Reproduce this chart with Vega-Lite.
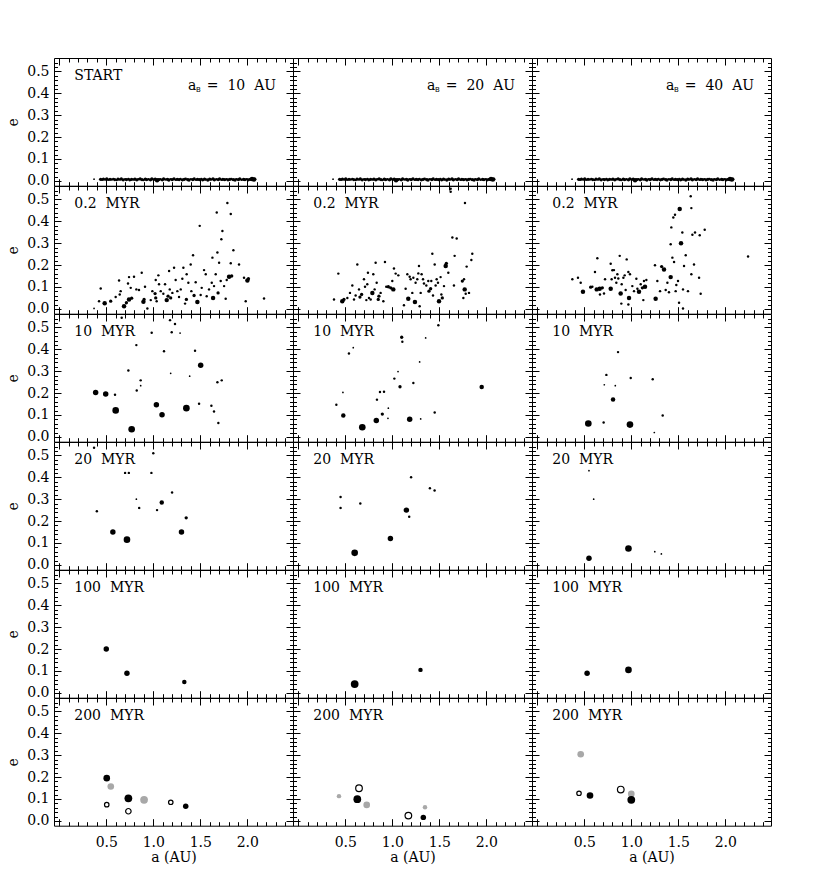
{
  "$schema": "https://vega.github.io/schema/vega-lite/v6.json",
  "background": "white",
  "padding": {"left": 6, "top": 55, "right": 5, "bottom": 5},
  "data": {
    "values": [
      {"r":1,"c":[1],"k":"time","s":"START"},
      {"r":2,"c":[1,2,3],"k":"time","s":"0.2\u00a0\u00a0MYR"},
      {"r":3,"c":[1,2,3],"k":"time","s":"10\u00a0\u00a0MYR"},
      {"r":4,"c":[1,2,3],"k":"time","s":"20\u00a0\u00a0MYR"},
      {"r":5,"c":[1,2,3],"k":"time","s":"100\u00a0\u00a0MYR"},
      {"r":6,"c":[1,2,3],"k":"time","s":"200\u00a0\u00a0MYR"},
      {"r":1,"c":[1],"k":"aB","s":"=\u00a0\u00a010\u00a0\u00a0AU"},
      {"r":1,"c":[2],"k":"aB","s":"=\u00a0\u00a020\u00a0\u00a0AU"},
      {"r":1,"c":[3],"k":"aB","s":"=\u00a0\u00a040\u00a0\u00a0AU"},

      {"r":1,"c":[1,2,3],"a":0.37,"e":0.008,"m":1},
      {"r":1,"c":[1,2,3],"a":0.44,"e":0.007,"m":3},
      {"r":1,"c":[1,2,3],"a":0.455,"e":0.005,"m":2},
      {"r":1,"c":[1,2,3],"a":0.47,"e":0.008,"m":3},
      {"r":1,"c":[1,2,3],"a":0.49,"e":0.006,"m":2},
      {"r":1,"c":[1,2,3],"a":0.505,"e":0.009,"m":3},
      {"r":1,"c":[1,2,3],"a":0.52,"e":0.005,"m":2},
      {"r":1,"c":[1,2,3],"a":0.54,"e":0.007,"m":3},
      {"r":1,"c":[1,2,3],"a":0.56,"e":0.006,"m":2},
      {"r":1,"c":[1,2,3],"a":0.575,"e":0.009,"m":2},
      {"r":1,"c":[1,2,3],"a":0.59,"e":0.006,"m":3},
      {"r":1,"c":[1,2,3],"a":0.61,"e":0.004,"m":2},
      {"r":1,"c":[1,2,3],"a":0.625,"e":0.008,"m":3},
      {"r":1,"c":[1,2,3],"a":0.645,"e":0.006,"m":2},
      {"r":1,"c":[1,2,3],"a":0.66,"e":0.009,"m":3},
      {"r":1,"c":[1,2,3],"a":0.68,"e":0.005,"m":3},
      {"r":1,"c":[1,2,3],"a":0.70,"e":0.007,"m":2},
      {"r":1,"c":[1,2,3],"a":0.715,"e":0.006,"m":3},
      {"r":1,"c":[1,2,3],"a":0.735,"e":0.009,"m":2},
      {"r":1,"c":[1,2,3],"a":0.75,"e":0.005,"m":3},
      {"r":1,"c":[1,2,3],"a":0.77,"e":0.007,"m":3},
      {"r":1,"c":[1,2,3],"a":0.79,"e":0.006,"m":2},
      {"r":1,"c":[1,2,3],"a":0.805,"e":0.008,"m":3},
      {"r":1,"c":[1,2,3],"a":0.825,"e":0.005,"m":3},
      {"r":1,"c":[1,2,3],"a":0.84,"e":0.007,"m":2},
      {"r":1,"c":[1,2,3],"a":0.86,"e":0.009,"m":3},
      {"r":1,"c":[1,2,3],"a":0.88,"e":0.006,"m":3},
      {"r":1,"c":[1,2,3],"a":0.895,"e":0.004,"m":2},
      {"r":1,"c":[1,2,3],"a":0.915,"e":0.008,"m":3},
      {"r":1,"c":[1,2,3],"a":0.93,"e":0.006,"m":3},
      {"r":1,"c":[1,2,3],"a":0.95,"e":0.007,"m":2},
      {"r":1,"c":[1,2,3],"a":0.97,"e":0.005,"m":3},
      {"r":1,"c":[1,2,3],"a":0.985,"e":0.009,"m":3},
      {"r":1,"c":[1,2,3],"a":1.005,"e":0.006,"m":2},
      {"r":1,"c":[1,2,3],"a":1.02,"e":0.008,"m":3},
      {"r":1,"c":[1,2,3],"a":1.04,"e":0.003,"m":4},
      {"r":1,"c":[1,2,3],"a":1.06,"e":0.006,"m":3},
      {"r":1,"c":[1,2,3],"a":1.075,"e":0.008,"m":2},
      {"r":1,"c":[1,2,3],"a":1.095,"e":0.005,"m":3},
      {"r":1,"c":[1,2,3],"a":1.11,"e":0.009,"m":3},
      {"r":1,"c":[1,2,3],"a":1.13,"e":0.006,"m":2},
      {"r":1,"c":[1,2,3],"a":1.15,"e":0.007,"m":3},
      {"r":1,"c":[1,2,3],"a":1.165,"e":0.004,"m":3},
      {"r":1,"c":[1,2,3],"a":1.185,"e":0.008,"m":2},
      {"r":1,"c":[1,2,3],"a":1.20,"e":0.006,"m":3},
      {"r":1,"c":[1,2,3],"a":1.22,"e":0.009,"m":3},
      {"r":1,"c":[1,2,3],"a":1.24,"e":0.005,"m":2},
      {"r":1,"c":[1,2,3],"a":1.255,"e":0.007,"m":3},
      {"r":1,"c":[1,2,3],"a":1.275,"e":0.006,"m":3},
      {"r":1,"c":[1,2,3],"a":1.29,"e":0.009,"m":2},
      {"r":1,"c":[1,2,3],"a":1.31,"e":0.005,"m":3},
      {"r":1,"c":[1,2,3],"a":1.33,"e":0.007,"m":3},
      {"r":1,"c":[1,2,3],"a":1.345,"e":0.010,"m":2},
      {"r":1,"c":[1,2,3],"a":1.365,"e":0.006,"m":3},
      {"r":1,"c":[1,2,3],"a":1.38,"e":0.004,"m":3},
      {"r":1,"c":[1,2,3],"a":1.40,"e":0.008,"m":2},
      {"r":1,"c":[1,2,3],"a":1.42,"e":0.006,"m":3},
      {"r":1,"c":[1,2,3],"a":1.435,"e":0.009,"m":3},
      {"r":1,"c":[1,2,3],"a":1.455,"e":0.005,"m":2},
      {"r":1,"c":[1,2,3],"a":1.47,"e":0.007,"m":3},
      {"r":1,"c":[1,2,3],"a":1.49,"e":0.006,"m":3},
      {"r":1,"c":[1,2,3],"a":1.51,"e":0.009,"m":2},
      {"r":1,"c":[1,2,3],"a":1.525,"e":0.005,"m":3},
      {"r":1,"c":[1,2,3],"a":1.545,"e":0.008,"m":3},
      {"r":1,"c":[1,2,3],"a":1.56,"e":0.006,"m":2},
      {"r":1,"c":[1,2,3],"a":1.58,"e":0.004,"m":3},
      {"r":1,"c":[1,2,3],"a":1.60,"e":0.008,"m":3},
      {"r":1,"c":[1,2,3],"a":1.615,"e":0.006,"m":2},
      {"r":1,"c":[1,2,3],"a":1.635,"e":0.009,"m":3},
      {"r":1,"c":[1,2,3],"a":1.65,"e":0.005,"m":3},
      {"r":1,"c":[1,2,3],"a":1.67,"e":0.007,"m":2},
      {"r":1,"c":[1,2,3],"a":1.69,"e":0.006,"m":3},
      {"r":1,"c":[1,2,3],"a":1.705,"e":0.009,"m":3},
      {"r":1,"c":[1,2,3],"a":1.725,"e":0.005,"m":2},
      {"r":1,"c":[1,2,3],"a":1.74,"e":0.007,"m":3},
      {"r":1,"c":[1,2,3],"a":1.76,"e":0.006,"m":3},
      {"r":1,"c":[1,2,3],"a":1.78,"e":0.008,"m":2},
      {"r":1,"c":[1,2,3],"a":1.795,"e":0.005,"m":3},
      {"r":1,"c":[1,2,3],"a":1.815,"e":0.007,"m":3},
      {"r":1,"c":[1,2,3],"a":1.83,"e":0.009,"m":2},
      {"r":1,"c":[1,2,3],"a":1.85,"e":0.006,"m":3},
      {"r":1,"c":[1,2,3],"a":1.87,"e":0.004,"m":3},
      {"r":1,"c":[1,2,3],"a":1.885,"e":0.008,"m":2},
      {"r":1,"c":[1,2,3],"a":1.905,"e":0.006,"m":3},
      {"r":1,"c":[1,2,3],"a":1.92,"e":0.009,"m":3},
      {"r":1,"c":[1,2,3],"a":1.94,"e":0.005,"m":2},
      {"r":1,"c":[1,2,3],"a":1.96,"e":0.007,"m":3},
      {"r":1,"c":[1,2,3],"a":1.975,"e":0.006,"m":3},
      {"r":1,"c":[1,2,3],"a":1.995,"e":0.008,"m":2},
      {"r":1,"c":[1,2,3],"a":2.01,"e":0.005,"m":3},
      {"r":1,"c":[1,2,3],"a":2.03,"e":0.007,"m":3},
      {"r":1,"c":[1,2,3],"a":2.05,"e":0.009,"m":4},
      {"r":1,"c":[1,2,3],"a":2.07,"e":0.006,"m":4},
      {"r":1,"c":[1,2,3],"a":2.08,"e":0.008,"m":3},

      {"r":2,"c":[1],"a":0.370,"e":0.002,"m":1},
      {"r":2,"c":[1],"a":0.441,"e":0.093,"m":2},
      {"r":2,"c":[1],"a":0.423,"e":0.035,"m":2},
      {"r":2,"c":[1],"a":0.483,"e":0.026,"m":4},
      {"r":2,"c":[1],"a":0.547,"e":0.035,"m":3},
      {"r":2,"c":[1],"a":0.600,"e":0.054,"m":2},
      {"r":2,"c":[1],"a":0.636,"e":0.130,"m":2},
      {"r":2,"c":[1],"a":0.653,"e":0.081,"m":2},
      {"r":2,"c":[1],"a":0.643,"e":0.066,"m":2},
      {"r":2,"c":[1],"a":0.689,"e":0.012,"m":4},
      {"r":2,"c":[1],"a":0.714,"e":0.028,"m":3},
      {"r":2,"c":[1],"a":0.742,"e":0.043,"m":4},
      {"r":2,"c":[1],"a":0.770,"e":0.049,"m":3},
      {"r":2,"c":[1],"a":0.731,"e":0.116,"m":2},
      {"r":2,"c":[1],"a":0.742,"e":0.145,"m":2},
      {"r":2,"c":[1],"a":0.760,"e":0.096,"m":2},
      {"r":2,"c":[1],"a":0.795,"e":0.147,"m":2},
      {"r":2,"c":[1],"a":0.820,"e":0.089,"m":2},
      {"r":2,"c":[1],"a":0.848,"e":0.086,"m":2},
      {"r":2,"c":[1],"a":0.877,"e":0.165,"m":2},
      {"r":2,"c":[1],"a":0.895,"e":0.032,"m":4},
      {"r":2,"c":[1],"a":0.902,"e":0.043,"m":3},
      {"r":2,"c":[1],"a":0.912,"e":0.101,"m":2},
      {"r":2,"c":[1],"a":0.937,"e":0.002,"m":2},
      {"r":2,"c":[1],"a":0.973,"e":0.040,"m":2},
      {"r":2,"c":[1],"a":0.990,"e":0.081,"m":2},
      {"r":2,"c":[1],"a":1.019,"e":0.070,"m":3},
      {"r":2,"c":[1],"a":1.026,"e":0.050,"m":3},
      {"r":2,"c":[1],"a":1.036,"e":0.035,"m":2},
      {"r":2,"c":[1],"a":1.054,"e":0.153,"m":2},
      {"r":2,"c":[1],"a":1.026,"e":0.132,"m":2},
      {"r":2,"c":[1],"a":1.061,"e":0.112,"m":2},
      {"r":2,"c":[1],"a":1.079,"e":0.081,"m":2},
      {"r":2,"c":[1],"a":1.107,"e":0.069,"m":2},
      {"r":2,"c":[1],"a":1.125,"e":0.112,"m":2},
      {"r":2,"c":[1],"a":1.143,"e":0.040,"m":4},
      {"r":2,"c":[1],"a":1.157,"e":0.058,"m":3},
      {"r":2,"c":[1],"a":1.168,"e":0.173,"m":2},
      {"r":2,"c":[1],"a":1.175,"e":0.089,"m":2},
      {"r":2,"c":[1],"a":1.185,"e":0.050,"m":3},
      {"r":2,"c":[1],"a":1.203,"e":0.073,"m":2},
      {"r":2,"c":[1],"a":1.221,"e":0.188,"m":2},
      {"r":2,"c":[1],"a":1.238,"e":0.132,"m":2},
      {"r":2,"c":[1],"a":1.256,"e":0.081,"m":2},
      {"r":2,"c":[1],"a":1.274,"e":0.054,"m":2},
      {"r":2,"c":[1],"a":1.292,"e":0.089,"m":2},
      {"r":2,"c":[1],"a":1.309,"e":0.138,"m":2},
      {"r":2,"c":[1],"a":1.320,"e":0.188,"m":2},
      {"r":2,"c":[1],"a":1.338,"e":0.024,"m":2},
      {"r":2,"c":[1],"a":1.352,"e":0.043,"m":3},
      {"r":2,"c":[1],"a":1.355,"e":0.158,"m":2},
      {"r":2,"c":[1],"a":1.373,"e":0.119,"m":2},
      {"r":2,"c":[1],"a":1.398,"e":0.203,"m":2},
      {"r":2,"c":[1],"a":1.405,"e":0.081,"m":2},
      {"r":2,"c":[1],"a":1.423,"e":0.245,"m":2},
      {"r":2,"c":[1],"a":1.434,"e":0.061,"m":3},
      {"r":2,"c":[1],"a":1.451,"e":0.122,"m":2},
      {"r":2,"c":[1],"a":1.469,"e":0.031,"m":4},
      {"r":2,"c":[1],"a":1.494,"e":0.379,"m":2},
      {"r":2,"c":[1],"a":1.504,"e":0.063,"m":2},
      {"r":2,"c":[1],"a":1.515,"e":0.096,"m":2},
      {"r":2,"c":[1],"a":1.540,"e":0.177,"m":2},
      {"r":2,"c":[1],"a":1.558,"e":0.158,"m":2},
      {"r":2,"c":[1],"a":1.568,"e":0.058,"m":2},
      {"r":2,"c":[1],"a":1.593,"e":0.089,"m":2},
      {"r":2,"c":[1],"a":1.622,"e":0.119,"m":2},
      {"r":2,"c":[1],"a":1.629,"e":0.234,"m":2},
      {"r":2,"c":[1],"a":1.636,"e":0.050,"m":4},
      {"r":2,"c":[1],"a":1.646,"e":0.104,"m":2},
      {"r":2,"c":[1],"a":1.664,"e":0.158,"m":2},
      {"r":2,"c":[1],"a":1.675,"e":0.440,"m":2},
      {"r":2,"c":[1],"a":1.682,"e":0.257,"m":2},
      {"r":2,"c":[1],"a":1.689,"e":0.073,"m":3},
      {"r":2,"c":[1],"a":1.700,"e":0.211,"m":2},
      {"r":2,"c":[1],"a":1.717,"e":0.127,"m":2},
      {"r":2,"c":[1],"a":1.724,"e":0.318,"m":2},
      {"r":2,"c":[1],"a":1.735,"e":0.356,"m":2},
      {"r":2,"c":[1],"a":1.753,"e":0.104,"m":2},
      {"r":2,"c":[1],"a":1.770,"e":0.046,"m":2},
      {"r":2,"c":[1],"a":1.781,"e":0.132,"m":2},
      {"r":2,"c":[1],"a":1.788,"e":0.483,"m":2},
      {"r":2,"c":[1],"a":1.806,"e":0.147,"m":4},
      {"r":2,"c":[1],"a":1.824,"e":0.433,"m":2},
      {"r":2,"c":[1],"a":1.824,"e":0.208,"m":2},
      {"r":2,"c":[1],"a":1.834,"e":0.150,"m":3},
      {"r":2,"c":[1],"a":1.852,"e":0.268,"m":2},
      {"r":2,"c":[1],"a":1.912,"e":0.203,"m":2},
      {"r":2,"c":[1],"a":1.965,"e":0.142,"m":2},
      {"r":2,"c":[1],"a":1.983,"e":0.035,"m":2},
      {"r":2,"c":[1],"a":2.001,"e":0.130,"m":4},
      {"r":2,"c":[1],"a":2.012,"e":0.138,"m":3},
      {"r":2,"c":[1],"a":2.178,"e":0.047,"m":2},

      {"r":2,"c":[2],"a":0.380,"e":0.043,"m":2},
      {"r":2,"c":[2],"a":0.426,"e":0.161,"m":2},
      {"r":2,"c":[2],"a":0.468,"e":0.035,"m":4},
      {"r":2,"c":[2],"a":0.486,"e":0.043,"m":3},
      {"r":2,"c":[2],"a":0.522,"e":0.050,"m":2},
      {"r":2,"c":[2],"a":0.550,"e":0.073,"m":2},
      {"r":2,"c":[2],"a":0.575,"e":0.107,"m":2},
      {"r":2,"c":[2],"a":0.593,"e":0.043,"m":2},
      {"r":2,"c":[2],"a":0.610,"e":0.061,"m":2},
      {"r":2,"c":[2],"a":0.628,"e":0.203,"m":2},
      {"r":2,"c":[2],"a":0.646,"e":0.089,"m":2},
      {"r":2,"c":[2],"a":0.656,"e":0.054,"m":3},
      {"r":2,"c":[2],"a":0.674,"e":0.066,"m":3},
      {"r":2,"c":[2],"a":0.699,"e":0.135,"m":2},
      {"r":2,"c":[2],"a":0.710,"e":0.101,"m":2},
      {"r":2,"c":[2],"a":0.724,"e":0.040,"m":2},
      {"r":2,"c":[2],"a":0.734,"e":0.112,"m":2},
      {"r":2,"c":[2],"a":0.741,"e":0.165,"m":2},
      {"r":2,"c":[2],"a":0.752,"e":0.050,"m":2},
      {"r":2,"c":[2],"a":0.770,"e":0.043,"m":2},
      {"r":2,"c":[2],"a":0.788,"e":0.073,"m":4},
      {"r":2,"c":[2],"a":0.798,"e":0.158,"m":2},
      {"r":2,"c":[2],"a":0.812,"e":0.089,"m":2},
      {"r":2,"c":[2],"a":0.823,"e":0.211,"m":2},
      {"r":2,"c":[2],"a":0.834,"e":0.119,"m":2},
      {"r":2,"c":[2],"a":0.851,"e":0.043,"m":3},
      {"r":2,"c":[2],"a":0.858,"e":0.058,"m":3},
      {"r":2,"c":[2],"a":0.876,"e":0.073,"m":2},
      {"r":2,"c":[2],"a":0.905,"e":0.035,"m":2},
      {"r":2,"c":[2],"a":0.922,"e":0.214,"m":2},
      {"r":2,"c":[2],"a":0.936,"e":0.101,"m":2},
      {"r":2,"c":[2],"a":0.958,"e":0.101,"m":3},
      {"r":2,"c":[2],"a":0.983,"e":0.096,"m":3},
      {"r":2,"c":[2],"a":1.011,"e":0.089,"m":4},
      {"r":2,"c":[2],"a":1.000,"e":0.127,"m":2},
      {"r":2,"c":[2],"a":1.018,"e":0.184,"m":2},
      {"r":2,"c":[2],"a":1.036,"e":0.161,"m":2},
      {"r":2,"c":[2],"a":1.064,"e":0.153,"m":2},
      {"r":2,"c":[2],"a":1.124,"e":0.017,"m":2},
      {"r":2,"c":[2],"a":1.142,"e":0.092,"m":2},
      {"r":2,"c":[2],"a":1.160,"e":0.158,"m":2},
      {"r":2,"c":[2],"a":1.170,"e":0.046,"m":4},
      {"r":2,"c":[2],"a":1.185,"e":0.147,"m":2},
      {"r":2,"c":[2],"a":1.195,"e":0.135,"m":2},
      {"r":2,"c":[2],"a":1.213,"e":0.073,"m":2},
      {"r":2,"c":[2],"a":1.224,"e":0.142,"m":2},
      {"r":2,"c":[2],"a":1.241,"e":0.031,"m":4},
      {"r":2,"c":[2],"a":1.248,"e":0.119,"m":2},
      {"r":2,"c":[2],"a":1.266,"e":0.135,"m":2},
      {"r":2,"c":[2],"a":1.277,"e":0.162,"m":2},
      {"r":2,"c":[2],"a":1.284,"e":0.196,"m":2},
      {"r":2,"c":[2],"a":1.291,"e":0.012,"m":2},
      {"r":2,"c":[2],"a":1.302,"e":0.073,"m":2},
      {"r":2,"c":[2],"a":1.312,"e":0.158,"m":2},
      {"r":2,"c":[2],"a":1.327,"e":0.135,"m":2},
      {"r":2,"c":[2],"a":1.337,"e":0.116,"m":2},
      {"r":2,"c":[2],"a":1.362,"e":0.107,"m":2},
      {"r":2,"c":[2],"a":1.383,"e":0.127,"m":2},
      {"r":2,"c":[2],"a":1.390,"e":0.081,"m":3},
      {"r":2,"c":[2],"a":1.408,"e":0.092,"m":3},
      {"r":2,"c":[2],"a":1.415,"e":0.127,"m":2},
      {"r":2,"c":[2],"a":1.426,"e":0.252,"m":2},
      {"r":2,"c":[2],"a":1.433,"e":0.061,"m":2},
      {"r":2,"c":[2],"a":1.451,"e":0.203,"m":2},
      {"r":2,"c":[2],"a":1.461,"e":0.107,"m":2},
      {"r":2,"c":[2],"a":1.472,"e":0.135,"m":2},
      {"r":2,"c":[2],"a":1.486,"e":0.119,"m":2},
      {"r":2,"c":[2],"a":1.497,"e":0.035,"m":4},
      {"r":2,"c":[2],"a":1.514,"e":0.145,"m":2},
      {"r":2,"c":[2],"a":1.522,"e":0.066,"m":2},
      {"r":2,"c":[2],"a":1.532,"e":0.050,"m":3},
      {"r":2,"c":[2],"a":1.550,"e":0.104,"m":2},
      {"r":2,"c":[2],"a":1.568,"e":0.196,"m":4},
      {"r":2,"c":[2],"a":1.575,"e":0.208,"m":3},
      {"r":2,"c":[2],"a":1.596,"e":0.165,"m":2},
      {"r":2,"c":[2],"a":1.639,"e":0.326,"m":2},
      {"r":2,"c":[2],"a":1.656,"e":0.107,"m":2},
      {"r":2,"c":[2],"a":1.663,"e":0.242,"m":2},
      {"r":2,"c":[2],"a":1.685,"e":0.321,"m":2},
      {"r":2,"c":[2],"a":1.745,"e":0.127,"m":3},
      {"r":2,"c":[2],"a":1.756,"e":0.050,"m":2},
      {"r":2,"c":[2],"a":1.763,"e":0.135,"m":2},
      {"r":2,"c":[2],"a":1.770,"e":0.089,"m":4},
      {"r":2,"c":[2],"a":1.781,"e":0.069,"m":2},
      {"r":2,"c":[2],"a":1.791,"e":0.193,"m":2},
      {"r":2,"c":[2],"a":1.816,"e":0.073,"m":2},
      {"r":2,"c":[2],"a":1.841,"e":0.223,"m":2},
      {"r":2,"c":[2],"a":1.851,"e":0.252,"m":2},
      {"r":2,"c":[2],"a":1.621,"e":0.548,"m":2},
      {"r":2,"c":[2],"a":1.621,"e":0.535,"m":2},
      {"r":2,"c":[2],"a":1.773,"e":0.483,"m":2},

      {"r":2,"c":[3],"a":0.373,"e":0.135,"m":2},
      {"r":2,"c":[3],"a":0.433,"e":0.142,"m":2},
      {"r":2,"c":[3],"a":0.462,"e":0.119,"m":2},
      {"r":2,"c":[3],"a":0.486,"e":0.078,"m":4},
      {"r":2,"c":[3],"a":0.568,"e":0.099,"m":3},
      {"r":2,"c":[3],"a":0.586,"e":0.101,"m":2},
      {"r":2,"c":[3],"a":0.614,"e":0.168,"m":2},
      {"r":2,"c":[3],"a":0.632,"e":0.089,"m":4},
      {"r":2,"c":[3],"a":0.639,"e":0.231,"m":2},
      {"r":2,"c":[3],"a":0.664,"e":0.092,"m":4},
      {"r":2,"c":[3],"a":0.667,"e":0.066,"m":2},
      {"r":2,"c":[3],"a":0.692,"e":0.096,"m":3},
      {"r":2,"c":[3],"a":0.710,"e":0.070,"m":2},
      {"r":2,"c":[3],"a":0.721,"e":0.135,"m":2},
      {"r":2,"c":[3],"a":0.781,"e":0.206,"m":2},
      {"r":2,"c":[3],"a":0.781,"e":0.092,"m":4},
      {"r":2,"c":[3],"a":0.791,"e":0.135,"m":2},
      {"r":2,"c":[3],"a":0.799,"e":0.176,"m":2},
      {"r":2,"c":[3],"a":0.816,"e":0.177,"m":2},
      {"r":2,"c":[3],"a":0.827,"e":0.142,"m":2},
      {"r":2,"c":[3],"a":0.841,"e":0.119,"m":2},
      {"r":2,"c":[3],"a":0.852,"e":0.158,"m":2},
      {"r":2,"c":[3],"a":0.862,"e":0.139,"m":2},
      {"r":2,"c":[3],"a":0.877,"e":0.242,"m":2},
      {"r":2,"c":[3],"a":0.887,"e":0.070,"m":4},
      {"r":2,"c":[3],"a":0.894,"e":0.024,"m":2},
      {"r":2,"c":[3],"a":0.898,"e":0.112,"m":2},
      {"r":2,"c":[3],"a":0.916,"e":0.142,"m":2},
      {"r":2,"c":[3],"a":0.930,"e":0.153,"m":2},
      {"r":2,"c":[3],"a":0.940,"e":0.086,"m":2},
      {"r":2,"c":[3],"a":0.951,"e":0.226,"m":2},
      {"r":2,"c":[3],"a":0.969,"e":0.168,"m":2},
      {"r":2,"c":[3],"a":0.976,"e":0.050,"m":4},
      {"r":2,"c":[3],"a":0.969,"e":0.020,"m":2},
      {"r":2,"c":[3],"a":0.986,"e":0.158,"m":2},
      {"r":2,"c":[3],"a":1.011,"e":0.104,"m":2},
      {"r":2,"c":[3],"a":1.029,"e":0.081,"m":2},
      {"r":2,"c":[3],"a":1.054,"e":0.138,"m":2},
      {"r":2,"c":[3],"a":1.065,"e":0.092,"m":2},
      {"r":2,"c":[3],"a":1.082,"e":0.078,"m":4},
      {"r":2,"c":[3],"a":1.100,"e":0.112,"m":2},
      {"r":2,"c":[3],"a":1.118,"e":0.096,"m":3},
      {"r":2,"c":[3],"a":1.128,"e":0.040,"m":2},
      {"r":2,"c":[3],"a":1.135,"e":0.127,"m":2},
      {"r":2,"c":[3],"a":1.146,"e":0.101,"m":4},
      {"r":2,"c":[3],"a":1.160,"e":0.132,"m":2},
      {"r":2,"c":[3],"a":1.252,"e":0.199,"m":2},
      {"r":2,"c":[3],"a":1.259,"e":0.046,"m":4},
      {"r":2,"c":[3],"a":1.277,"e":0.127,"m":2},
      {"r":2,"c":[3],"a":1.306,"e":0.081,"m":2},
      {"r":2,"c":[3],"a":1.323,"e":0.193,"m":3},
      {"r":2,"c":[3],"a":1.348,"e":0.180,"m":4},
      {"r":2,"c":[3],"a":1.366,"e":0.086,"m":2},
      {"r":2,"c":[3],"a":1.384,"e":0.119,"m":2},
      {"r":2,"c":[3],"a":1.401,"e":0.076,"m":2},
      {"r":2,"c":[3],"a":1.419,"e":0.145,"m":4},
      {"r":2,"c":[3],"a":1.419,"e":0.295,"m":2},
      {"r":2,"c":[3],"a":1.426,"e":0.372,"m":2},
      {"r":2,"c":[3],"a":1.437,"e":0.234,"m":2},
      {"r":2,"c":[3],"a":1.447,"e":0.417,"m":2},
      {"r":2,"c":[3],"a":1.455,"e":0.214,"m":2},
      {"r":2,"c":[3],"a":1.465,"e":0.430,"m":2},
      {"r":2,"c":[3],"a":1.472,"e":0.081,"m":2},
      {"r":2,"c":[3],"a":1.479,"e":0.109,"m":2},
      {"r":2,"c":[3],"a":1.497,"e":0.127,"m":2},
      {"r":2,"c":[3],"a":1.508,"e":0.028,"m":2},
      {"r":2,"c":[3],"a":1.515,"e":0.456,"m":4},
      {"r":2,"c":[3],"a":1.529,"e":0.300,"m":4},
      {"r":2,"c":[3],"a":1.543,"e":0.349,"m":2},
      {"r":2,"c":[3],"a":1.550,"e":0.002,"m":2},
      {"r":2,"c":[3],"a":1.550,"e":0.089,"m":2},
      {"r":2,"c":[3],"a":1.561,"e":0.196,"m":2},
      {"r":2,"c":[3],"a":1.579,"e":0.245,"m":2},
      {"r":2,"c":[3],"a":1.603,"e":0.081,"m":2},
      {"r":2,"c":[3],"a":1.632,"e":0.514,"m":2},
      {"r":2,"c":[3],"a":1.639,"e":0.460,"m":2},
      {"r":2,"c":[3],"a":1.639,"e":0.158,"m":2},
      {"r":2,"c":[3],"a":1.650,"e":0.338,"m":2},
      {"r":2,"c":[3],"a":1.667,"e":0.203,"m":2},
      {"r":2,"c":[3],"a":1.678,"e":0.349,"m":2},
      {"r":2,"c":[3],"a":1.721,"e":0.142,"m":2},
      {"r":2,"c":[3],"a":1.728,"e":0.336,"m":2},
      {"r":2,"c":[3],"a":1.738,"e":0.069,"m":2},
      {"r":2,"c":[3],"a":1.781,"e":0.361,"m":2},
      {"r":2,"c":[3],"a":2.242,"e":0.239,"m":2},

      {"r":3,"c":[1],"a":0.664,"e":0.544,"m":2},
      {"r":3,"c":[1],"a":0.387,"e":0.203,"m":5},
      {"r":3,"c":[1],"a":0.494,"e":0.196,"m":5},
      {"r":3,"c":[1],"a":0.593,"e":0.192,"m":2},
      {"r":3,"c":[1],"a":0.600,"e":0.121,"m":6},
      {"r":3,"c":[1],"a":0.735,"e":0.303,"m":2},
      {"r":3,"c":[1],"a":0.770,"e":0.035,"m":6},
      {"r":3,"c":[1],"a":0.820,"e":0.419,"m":2},
      {"r":3,"c":[1],"a":0.824,"e":0.212,"m":2},
      {"r":3,"c":[1],"a":0.866,"e":0.258,"m":2},
      {"r":3,"c":[1],"a":0.866,"e":0.234,"m":1},
      {"r":3,"c":[1],"a":0.983,"e":0.475,"m":2},
      {"r":3,"c":[1],"a":1.033,"e":0.147,"m":5},
      {"r":3,"c":[1],"a":1.093,"e":0.101,"m":5},
      {"r":3,"c":[1],"a":1.114,"e":0.391,"m":2},
      {"r":3,"c":[1],"a":1.178,"e":0.533,"m":2},
      {"r":3,"c":[1],"a":1.185,"e":0.290,"m":1},
      {"r":3,"c":[1],"a":1.196,"e":0.478,"m":2},
      {"r":3,"c":[1],"a":1.231,"e":0.515,"m":2},
      {"r":3,"c":[1],"a":1.285,"e":0.474,"m":1},
      {"r":3,"c":[1],"a":1.352,"e":0.131,"m":6},
      {"r":3,"c":[1],"a":1.387,"e":0.277,"m":1},
      {"r":3,"c":[1],"a":1.444,"e":0.393,"m":2},
      {"r":3,"c":[1],"a":1.487,"e":0.151,"m":2},
      {"r":3,"c":[1],"a":1.504,"e":0.327,"m":5},
      {"r":3,"c":[1],"a":1.618,"e":0.142,"m":2},
      {"r":3,"c":[1],"a":1.646,"e":0.116,"m":2},
      {"r":3,"c":[1],"a":1.682,"e":0.249,"m":2},
      {"r":3,"c":[1],"a":1.692,"e":0.063,"m":2},
      {"r":3,"c":[1],"a":1.728,"e":0.258,"m":2},

      {"r":3,"c":[2],"a":1.490,"e":0.510,"m":2},
      {"r":3,"c":[2],"a":1.100,"e":0.455,"m":3},
      {"r":3,"c":[2],"a":1.107,"e":0.434,"m":2},
      {"r":3,"c":[2],"a":1.355,"e":0.452,"m":1},
      {"r":3,"c":[2],"a":0.585,"e":0.407,"m":1},
      {"r":3,"c":[2],"a":0.539,"e":0.381,"m":2},
      {"r":3,"c":[2],"a":1.291,"e":0.342,"m":1},
      {"r":3,"c":[2],"a":1.061,"e":0.298,"m":1},
      {"r":3,"c":[2],"a":1.022,"e":0.266,"m":2},
      {"r":3,"c":[2],"a":1.224,"e":0.246,"m":2},
      {"r":3,"c":[2],"a":1.082,"e":0.229,"m":3},
      {"r":3,"c":[2],"a":1.951,"e":0.228,"m":4},
      {"r":3,"c":[2],"a":0.475,"e":0.203,"m":1},
      {"r":3,"c":[2],"a":0.869,"e":0.205,"m":2},
      {"r":3,"c":[2],"a":0.912,"e":0.206,"m":2},
      {"r":3,"c":[2],"a":0.837,"e":0.170,"m":2},
      {"r":3,"c":[2],"a":0.405,"e":0.147,"m":2},
      {"r":3,"c":[2],"a":0.958,"e":0.131,"m":1},
      {"r":3,"c":[2],"a":0.479,"e":0.098,"m":4},
      {"r":3,"c":[2],"a":0.894,"e":0.104,"m":3},
      {"r":3,"c":[2],"a":1.451,"e":0.111,"m":2},
      {"r":3,"c":[2],"a":0.830,"e":0.075,"m":5},
      {"r":3,"c":[2],"a":0.954,"e":0.085,"m":1},
      {"r":3,"c":[2],"a":1.185,"e":0.081,"m":5},
      {"r":3,"c":[2],"a":1.302,"e":0.082,"m":1},
      {"r":3,"c":[2],"a":0.681,"e":0.044,"m":6},

      {"r":3,"c":[3],"a":0.859,"e":0.387,"m":2},
      {"r":3,"c":[3],"a":0.735,"e":0.283,"m":2},
      {"r":3,"c":[3],"a":0.994,"e":0.269,"m":2},
      {"r":3,"c":[3],"a":1.228,"e":0.263,"m":2},
      {"r":3,"c":[3],"a":0.713,"e":0.238,"m":1},
      {"r":3,"c":[3],"a":0.830,"e":0.234,"m":1},
      {"r":3,"c":[3],"a":0.806,"e":0.171,"m":4},
      {"r":3,"c":[3],"a":1.334,"e":0.098,"m":2},
      {"r":3,"c":[3],"a":0.543,"e":0.061,"m":6},
      {"r":3,"c":[3],"a":0.706,"e":0.066,"m":2},
      {"r":3,"c":[3],"a":0.986,"e":0.056,"m":6},
      {"r":3,"c":[3],"a":1.245,"e":0.020,"m":1},

      {"r":4,"c":[1],"a":0.37,"e":0.535,"m":2},
      {"r":4,"c":[1],"a":0.40,"e":0.245,"m":2},
      {"r":4,"c":[1],"a":0.70,"e":0.42,"m":2},
      {"r":4,"c":[1],"a":0.74,"e":0.42,"m":2},
      {"r":4,"c":[1],"a":0.85,"e":0.26,"m":2},
      {"r":4,"c":[1],"a":0.82,"e":0.30,"m":1},
      {"r":4,"c":[1],"a":0.98,"e":0.42,"m":2},
      {"r":4,"c":[1],"a":1.00,"e":0.51,"m":2},
      {"r":4,"c":[1],"a":1.04,"e":0.25,"m":2},
      {"r":4,"c":[1],"a":1.09,"e":0.285,"m":4},
      {"r":4,"c":[1],"a":1.20,"e":0.33,"m":2},
      {"r":4,"c":[1],"a":0.57,"e":0.15,"m":5},
      {"r":4,"c":[1],"a":0.72,"e":0.115,"m":6},
      {"r":4,"c":[1],"a":1.30,"e":0.15,"m":5},
      {"r":4,"c":[1],"a":1.35,"e":0.215,"m":3},

      {"r":4,"c":[2],"a":0.45,"e":0.31,"m":2},
      {"r":4,"c":[2],"a":0.45,"e":0.26,"m":2},
      {"r":4,"c":[2],"a":0.66,"e":0.28,"m":2},
      {"r":4,"c":[2],"a":1.20,"e":0.40,"m":2},
      {"r":4,"c":[2],"a":1.40,"e":0.35,"m":2},
      {"r":4,"c":[2],"a":1.45,"e":0.34,"m":2},
      {"r":4,"c":[2],"a":1.15,"e":0.25,"m":5},
      {"r":4,"c":[2],"a":1.18,"e":0.22,"m":2},
      {"r":4,"c":[2],"a":0.98,"e":0.12,"m":5},
      {"r":4,"c":[2],"a":0.60,"e":0.055,"m":6},

      {"r":4,"c":[3],"a":0.55,"e":0.43,"m":1},
      {"r":4,"c":[3],"a":0.60,"e":0.30,"m":1},
      {"r":4,"c":[3],"a":0.55,"e":0.03,"m":5},
      {"r":4,"c":[3],"a":0.97,"e":0.075,"m":6},
      {"r":4,"c":[3],"a":1.25,"e":0.06,"m":1},
      {"r":4,"c":[3],"a":1.32,"e":0.05,"m":1},

      {"r":5,"c":[1],"a":0.50,"e":0.20,"m":5},
      {"r":5,"c":[1],"a":0.72,"e":0.09,"m":5},
      {"r":5,"c":[1],"a":1.33,"e":0.05,"m":4},
      {"r":5,"c":[2],"a":0.60,"e":0.04,"m":7},
      {"r":5,"c":[2],"a":1.30,"e":0.105,"m":4},
      {"r":5,"c":[3],"a":0.53,"e":0.09,"m":5},
      {"r":5,"c":[3],"a":0.97,"e":0.105,"m":6},

      {"r":6,"c":[1],"a":0.505,"e":0.195,"m":6,"t":"b"},
      {"r":6,"c":[1],"a":0.548,"e":0.157,"m":6,"t":"g"},
      {"r":6,"c":[1],"a":0.505,"e":0.074,"m":4,"t":"o"},
      {"r":6,"c":[1],"a":0.735,"e":0.103,"m":7,"t":"b"},
      {"r":6,"c":[1],"a":0.735,"e":0.044,"m":5,"t":"o"},
      {"r":6,"c":[1],"a":0.902,"e":0.096,"m":7,"t":"g"},
      {"r":6,"c":[1],"a":1.186,"e":0.085,"m":4,"t":"o"},
      {"r":6,"c":[1],"a":1.345,"e":0.067,"m":5,"t":"b"},

      {"r":6,"c":[2],"a":0.433,"e":0.113,"m":4,"t":"g"},
      {"r":6,"c":[2],"a":0.646,"e":0.149,"m":6,"t":"o"},
      {"r":6,"c":[2],"a":0.628,"e":0.099,"m":7,"t":"b"},
      {"r":6,"c":[2],"a":0.728,"e":0.073,"m":6,"t":"g"},
      {"r":6,"c":[2],"a":1.171,"e":0.024,"m":6,"t":"o"},
      {"r":6,"c":[2],"a":1.348,"e":0.062,"m":4,"t":"g"},
      {"r":6,"c":[2],"a":1.330,"e":0.016,"m":5,"t":"b"},

      {"r":6,"c":[3],"a":0.462,"e":0.304,"m":6,"t":"g"},
      {"r":6,"c":[3],"a":0.444,"e":0.126,"m":4,"t":"o"},
      {"r":6,"c":[3],"a":0.561,"e":0.116,"m":6,"t":"b"},
      {"r":6,"c":[3],"a":0.888,"e":0.143,"m":6,"t":"o"},
      {"r":6,"c":[3],"a":1.000,"e":0.123,"m":6,"t":"g"},
      {"r":6,"c":[3],"a":1.000,"e":0.096,"m":7,"t":"b"}
    ]
  },
  "transform": [{"flatten": ["c"]}],
  "facet": {
    "row": {"field": "r", "type": "ordinal", "title": null, "header": {"labels": false, "labelFontSize": 0, "labelPadding": 0}},
    "column": {"field": "c", "type": "ordinal", "title": null, "header": {"labels": false, "labelFontSize": 0, "labelPadding": 0}}
  },
  "spacing": {"row": 0, "column": 0},
  "bounds": "flush",
  "spec": {
    "width": 239,
    "height": 127.7,
    "layer": [
      {
        "transform": [{"filter": "!datum.k"}],
        "mark": {"type": "circle", "opacity": 1, "strokeWidth": 1.2},
        "encoding": {
          "x": {
            "field": "a", "type": "quantitative",
            "scale": {"domain": [-0.056, 2.486], "nice": false, "zero": false},
            "axis": {
              "title": "a (AU)",
              "values": [0,0.1,0.2,0.3,0.4,0.5,0.6,0.7,0.8,0.9,1,1.1,1.2,1.3,1.4,1.5,1.6,1.7,1.8,1.9,2,2.1,2.2,2.3,2.4],
              "tickCount": 200,
              "labelExpr": "indexof([0.5,1,1.5,2], datum.value) >= 0 ? format(datum.value, '.1f') : ''",
              "ticks": false, "domain": false, "grid": true,
              "gridColor": "black", "gridOpacity": 1, "gridWidth": 1,
              "gridDash": {"condition": {"test": "indexof([0,0.5,1,1.5,2], datum.value) >= 0", "value": [7, 113.7]}, "value": [4, 119.7]},
              "labelPadding": 9, "titlePadding": 1,
              "labelOverlap": false, "labelFlush": false, "labelBound": false
            }
          },
          "y": {
            "field": "e", "type": "quantitative",
            "scale": {"domain": [-0.022, 0.561], "nice": false, "zero": false},
            "axis": {
              "title": "e",
              "values": [0,0.02,0.04,0.06,0.08,0.1,0.12,0.14,0.16,0.18,0.2,0.22,0.24,0.26,0.28,0.3,0.32,0.34,0.36,0.38,0.4,0.42,0.44,0.46,0.48,0.5,0.52,0.54],
              "tickCount": 200,
              "labelExpr": "indexof([0,0.1,0.2,0.3,0.4,0.5], datum.value) >= 0 ? format(datum.value, '.1f') : ''",
              "ticks": false, "domain": false, "grid": true,
              "gridColor": "black", "gridOpacity": 1, "gridWidth": 1,
              "gridDash": {"condition": {"test": "indexof([0,0.1,0.2,0.3,0.4,0.5], datum.value) >= 0", "value": [7, 225]}, "value": [3.5, 232]},
              "labelPadding": 5, "titlePadding": 6,
              "labelOverlap": false, "labelFlush": false, "labelBound": false
            }
          },
          "size": {
            "field": "m", "type": "quantitative",
            "scale": {"type": "threshold", "domain": [1.5, 2.5, 3.5, 4.5, 5.5, 6.5], "range": [3, 6, 11, 20, 30, 44, 60]},
            "legend": null
          },
          "fill": {
            "condition": [
              {"test": "datum.t == 'g'", "value": "#a8a8a8"},
              {"test": "datum.t == 'o'", "value": "white"}
            ],
            "value": "black"
          },
          "stroke": {
            "condition": {"test": "datum.t == 'o'", "value": "black"},
            "value": "transparent"
          }
        }
      },
      {
        "transform": [{"filter": "datum.k == 'time'"}],
        "mark": {"type": "text", "align": "left", "baseline": "alphabetic", "font": "DejaVu Serif", "fontSize": 14, "color": "black"},
        "encoding": {
          "x": {"datum": 0.16, "type": "quantitative"},
          "y": {"datum": 0.459, "type": "quantitative"},
          "text": {"field": "s", "type": "nominal"}
        }
      },
      {
        "transform": [{"filter": "datum.k == 'aB'"}],
        "mark": {"type": "text", "align": "right", "baseline": "alphabetic", "font": "DejaVu Serif", "fontSize": 14, "color": "black"},
        "encoding": {
          "x": {"datum": 2.306, "type": "quantitative"},
          "y": {"datum": 0.417, "type": "quantitative"},
          "text": {"field": "s", "type": "nominal"}
        }
      },
      {
        "transform": [{"filter": "datum.k == 'aB'"}],
        "mark": {"type": "text", "align": "left", "baseline": "alphabetic", "font": "DejaVu Serif", "fontSize": 14, "color": "black"},
        "encoding": {
          "x": {"datum": 1.37, "type": "quantitative"},
          "y": {"datum": 0.417, "type": "quantitative"},
          "text": {"value": "a"}
        }
      },
      {
        "transform": [{"filter": "datum.k == 'aB'"}],
        "mark": {"type": "text", "align": "left", "baseline": "alphabetic", "font": "DejaVu Sans", "fontSize": 7, "color": "black"},
        "encoding": {
          "x": {"datum": 1.455, "type": "quantitative"},
          "y": {"datum": 0.404, "type": "quantitative"},
          "text": {"value": "B"}
        }
      }
    ]
  },
  "config": {
    "view": {"stroke": "black", "strokeWidth": 1},
    "axis": {
      "labelFont": "DejaVu Serif", "labelFontSize": 14, "labelColor": "black",
      "titleFont": "DejaVu Serif", "titleFontSize": 14, "titleFontWeight": "normal", "titleColor": "black"
    }
  }
}
